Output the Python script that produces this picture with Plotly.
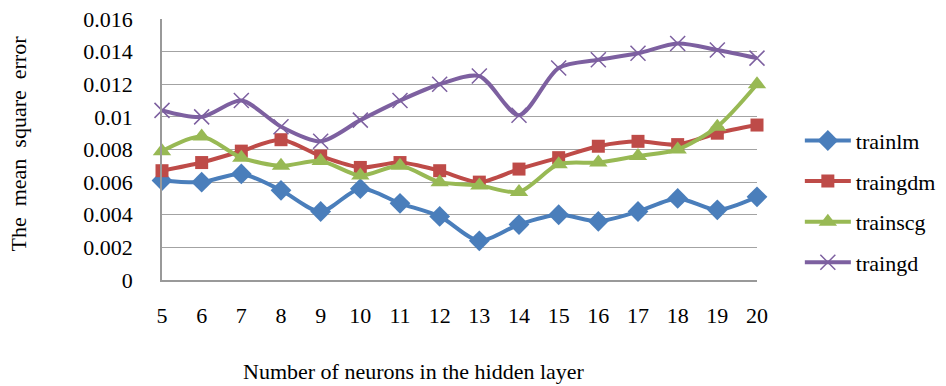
import plotly.graph_objects as go

neurons = list(range(5, 21))
trainlm = [0.0061, 0.0060, 0.0065, 0.0055, 0.0042, 0.0056, 0.0047, 0.0039,
           0.0024, 0.0034, 0.0040, 0.0036, 0.0042, 0.0050, 0.0043, 0.0051]
traingdm = [0.0067, 0.0072, 0.0079, 0.0086, 0.0076, 0.0069, 0.0072, 0.0067,
            0.0060, 0.0068, 0.0075, 0.0082, 0.0085, 0.0083, 0.0090, 0.0095]
trainscg = [0.0079, 0.0088, 0.0075, 0.0070, 0.0073, 0.0064, 0.0070, 0.0060,
            0.0058, 0.0054, 0.0071, 0.0072, 0.0076, 0.0080, 0.0094, 0.0120]
traingd = [0.0104, 0.0100, 0.0110, 0.0094, 0.0085, 0.0098, 0.0110, 0.0120,
           0.0125, 0.0101, 0.0130, 0.0135, 0.0139, 0.0145, 0.0141, 0.0136]
y_ticks = [0, 0.002, 0.004, 0.006, 0.008, 0.01, 0.012, 0.014, 0.016]
y_tick_text = ["0", "0.002", "0.004", "0.006", "0.008", "0.01", "0.012", "0.014", "0.016"]

FONT = "Liberation Serif, Times New Roman, serif"
FS = 22

series = [
    ("trainlm", trainlm, "#4A7EBB", dict(symbol="diamond", size=16)),
    ("traingdm", traingdm, "#BE4B48", dict(symbol="square", size=13)),
    ("trainscg", trainscg, "#98B954", dict(symbol="triangle-up", size=16)),
    ("traingd", traingd, "#7D60A0", dict(symbol="x-thin-open", size=15,
                                          line=dict(width=1.5, color="#7D60A0"))),
]

fig = go.Figure()
for name, vals, color, mk in series:
    marker = dict(color=color, **mk)
    fig.add_trace(go.Scatter(
        x=neurons, y=vals, name=name, mode="lines+markers",
        line=dict(color=color, width=4, shape="spline", smoothing=0.8),
        marker=marker, cliponaxis=False, legendgroup=name,
    ))

fig.update_layout(
    width=946, height=386,
    margin=dict(l=162, r=189, t=19, b=106, autoexpand=False),
    paper_bgcolor="white", plot_bgcolor="white",
    font=dict(family=FONT, size=FS, color="black"),
    showlegend=True,
    legend=dict(x=1.072, xanchor="left", xref="paper", y=0.30, yanchor="middle",
                font=dict(family=FONT, size=FS), tracegroupgap=9, itemwidth=46,
                traceorder="grouped", bgcolor="rgba(0,0,0,0)"),
    xaxis=dict(range=[5, 20], tickmode="array", tickvals=neurons,
               ticktext=[str(n) for n in neurons], showgrid=False,
               showline=True, linecolor="#999999", linewidth=1.5,
               ticks="", zeroline=False, ticklabelstandoff=15,
               tickfont=dict(family=FONT, size=FS)),
    yaxis=dict(range=[0, 0.016], tickmode="array", tickvals=y_ticks,
               ticktext=y_tick_text, showgrid=True, gridcolor="#A3A3A3",
               gridwidth=1.2, showline=True, linecolor="#999999", linewidth=1.5,
               ticks="", zeroline=False, ticklabelstandoff=23,
               tickfont=dict(family=FONT, size=FS)),
)

fig.add_annotation(text="The  mean  square  error", xref="paper", yref="paper",
                   x=-0.242, y=0.523, xanchor="center", yanchor="middle",
                   textangle=-90, showarrow=False,
                   font=dict(family=FONT, size=FS))
fig.add_annotation(text="Number of neurons in the hidden layer", xref="paper",
                   yref="paper", x=0.4235, y=-0.352, xanchor="center",
                   yanchor="middle", showarrow=False,
                   font=dict(family=FONT, size=FS))

fig.write_html("out.html")
